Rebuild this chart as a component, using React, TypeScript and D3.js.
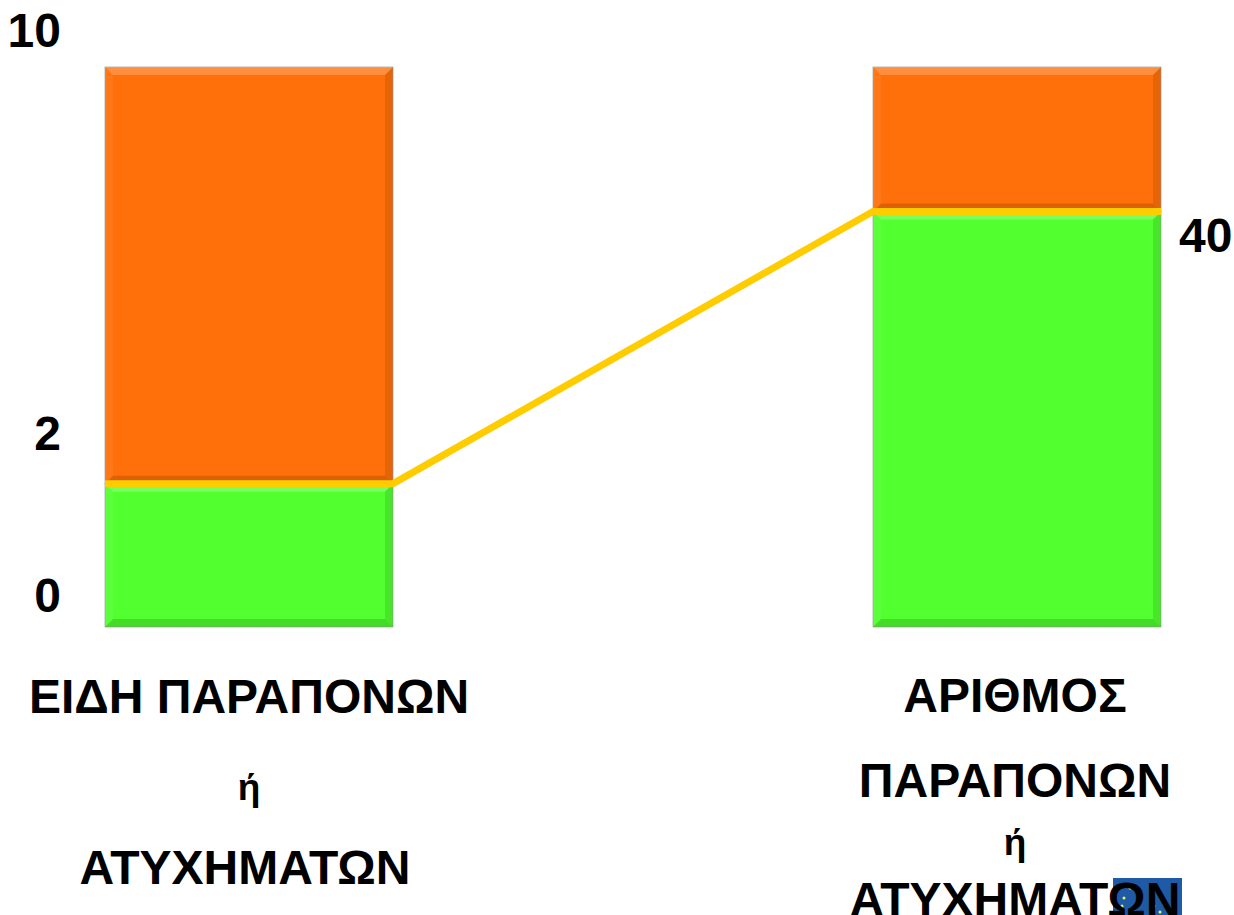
import React from "react";
import * as d3 from "d3";

// ---- data (shares of each bar, in %) ----
const categories = ["left", "right"];
const categoryLines: string[][] = [
  ["ΕΙΔΗ ΠΑΡΑΠΟΝΩΝ", "ή", "ΑΤΥΧΗΜΑΤΩΝ"],
  ["ΑΡΙΘΜΟΣ", "ΠΑΡΑΠΟΝΩΝ", "ή", "ΑΤΥΧΗΜΑΤΩΝ"],
];
const vitalFew = [25.6, 74.2]; // green (lower) segment
const trivialMany = [74.4, 25.8]; // orange (upper) segment
const leftTickLabels = ["10", "2", "0"];
const leftTickValues = [100, 25.6, 0];
const rightTickLabels = ["40"];
const rightTickValues = [74.2];

// ---- layout / style ----
const W = 1234;
const H = 915;
const GREEN = "#52ff2f";
const ORANGE = "#ff700a";
const YELLOW = "#ffcc00";
const FONT = "'Liberation Sans', Arial, Helvetica, sans-serif";
const LEFT_LABEL_DY = [-20, -34, -15];
const RIGHT_LABEL_DY = [41];
const LEFT_LINE_Y = [713, 800, 884];
const RIGHT_LINE_Y = [712, 797, 855, 916];

function Bevel({ x, y, w, h, fill }: { x: number; y: number; w: number; h: number; fill: string }) {
  const b = 8;
  const p = (pts: number[][]) => pts.map((q) => q.join(",")).join(" ");
  return (
    <g>
      <rect x={x} y={y} width={w} height={h} fill={fill} stroke="#a0a0a0" strokeOpacity={0.7} strokeWidth={1} />
      <polygon points={p([[x, y], [x + w, y], [x + w - b, y + b], [x + b, y + b]])} fill="#fff" opacity={0.22} />
      <polygon points={p([[x + w, y], [x + w, y + h], [x + w - b, y + h - b], [x + w - b, y + b]])} fill="#000" opacity={0.1} />
      <polygon points={p([[x, y + h], [x + w, y + h], [x + w - b, y + h - b], [x + b, y + h - b]])} fill="#000" opacity={0.14} />
      <polygon points={p([[x, y], [x, y + h], [x + b, y + h - b], [x + b, y + b]])} fill="#fff" opacity={0.06} />
    </g>
  );
}

export default function App() {
  const x = d3.scaleBand<string>().domain(categories).range([105, 1161]).paddingInner(0.625).paddingOuter(0);
  const y = d3.scaleLinear().domain([0, 100]).range([627, 67]);
  const bw = x.bandwidth();

  const stacked = categories.map((c, i) => ({
    c,
    green: [0, vitalFew[i]],
    orange: [vitalFew[i], vitalFew[i] + trivialMany[i]],
  }));

  // yellow line through the tops of the green segments
  const linePts: [number, number][] = [];
  categories.forEach((c, i) => {
    linePts.push([x(c)!, y(vitalFew[i])]);
    linePts.push([x(c)! + bw, y(vitalFew[i])]);
  });
  const line = d3.line();

  const leftX = x(categories[0])! + bw / 2;
  const rightX = x(categories[1])! + bw / 2;

  return (
    <svg width={W} height={H} style={{ position: "absolute", left: 0, top: 0, background: "#fff" }} fontFamily={FONT}>
      {stacked.map((s) => (
        <g key={s.c}>
          <Bevel x={x(s.c)!} y={y(s.orange[1])} w={bw} h={y(s.orange[0]) - y(s.orange[1])} fill={ORANGE} />
          <Bevel x={x(s.c)!} y={y(s.green[1])} w={bw} h={y(s.green[0]) - y(s.green[1])} fill={GREEN} />
        </g>
      ))}
      <path d={line(linePts)!} fill="none" stroke={YELLOW} strokeWidth={7} strokeLinejoin="miter" />

      {leftTickLabels.map((t, i) => (
        <text key={t} x={61} y={y(leftTickValues[i]) + LEFT_LABEL_DY[i]} textAnchor="end" fontSize={48} fontWeight="bold">
          {t}
        </text>
      ))}
      {rightTickLabels.map((t, i) => (
        <text key={t} x={x(categories[1])! + bw + 18} y={y(rightTickValues[i]) + RIGHT_LABEL_DY[i]} fontSize={48} fontWeight="bold">
          {t}
        </text>
      ))}

      {/* decorative logo fragment */}
      <g>
        <rect x={1113} y={878} width={69} height={37} fill="#1f5aa6" />
        {[[1130, 888], [1124, 898], [1122, 906], [1154, 906], [1160, 912]].map(([cx, cy], i) => (
          <circle key={i} cx={cx} cy={cy} r={1.5} fill="#e8f060" />
        ))}
      </g>

      {categoryLines[0].map((t, i) => (
        <text key={"l" + i} x={leftX - (i === 2 ? 4 : 0)} y={LEFT_LINE_Y[i]} textAnchor="middle" fontSize={t === "ή" ? 37 : 48} fontWeight="bold">
          {t}
        </text>
      ))}
      {categoryLines[1].map((t, i) => (
        <text key={"r" + i} x={rightX - 2} y={RIGHT_LINE_Y[i]} textAnchor="middle" fontSize={t === "ή" ? 37 : 48} fontWeight="bold">
          {t}
        </text>
      ))}
    </svg>
  );
}
